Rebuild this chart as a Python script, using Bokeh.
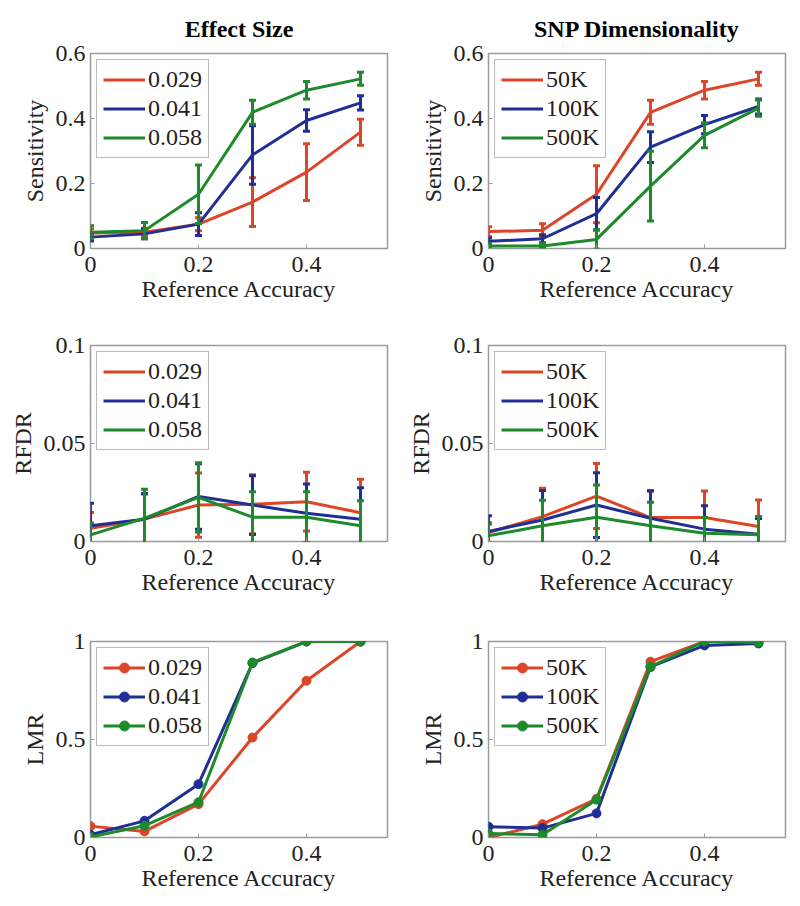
from bokeh.plotting import figure
from bokeh.models import Range1d, FixedTicker, CustomJSTickFormatter
from bokeh.layouts import gridplot
from bokeh.embed import file_html
from bokeh.resources import INLINE

# ---------------- data ----------------
ref_acc = [0.0, 0.1, 0.2, 0.3, 0.4, 0.5]
effect_labels = ["0.029", "0.041", "0.058"]
snp_labels = ["50K", "100K", "500K"]
colors = ["#dc4527", "#1f2f94", "#1d8a2b"]

# Sensitivity vs effect size
sens_eff_029 = [0.048, 0.050, 0.075, 0.143, 0.235, 0.358]
sens_eff_029_err = [0.012, 0.012, 0.020, 0.075, 0.087, 0.040]
sens_eff_041 = [0.035, 0.045, 0.075, 0.288, 0.394, 0.448]
sens_eff_041_err = [0.012, 0.015, 0.035, 0.090, 0.033, 0.022]
sens_eff_058 = [0.050, 0.055, 0.167, 0.419, 0.487, 0.522]
sens_eff_058_err = [0.020, 0.025, 0.090, 0.037, 0.027, 0.020]

# Sensitivity vs SNP dimensionality
sens_snp_50k = [0.052, 0.056, 0.167, 0.419, 0.487, 0.522]
sens_snp_50k_err = [0.015, 0.020, 0.088, 0.037, 0.027, 0.020]
sens_snp_100k = [0.022, 0.030, 0.107, 0.312, 0.381, 0.437]
sens_snp_100k_err = [0.010, 0.012, 0.050, 0.047, 0.028, 0.023]
sens_snp_500k = [0.008, 0.008, 0.028, 0.192, 0.348, 0.432]
sens_snp_500k_err = [0.008, 0.008, 0.030, 0.107, 0.038, 0.025]

# RFDR vs effect size
rfdr_eff_029 = [0.0068, 0.0114, 0.0186, 0.0190, 0.0203, 0.0147]
rfdr_eff_029_err = [0.0080, 0.0130, 0.0164, 0.0150, 0.0150, 0.0170]
rfdr_eff_041 = [0.0080, 0.0114, 0.0230, 0.0186, 0.0144, 0.0114]
rfdr_eff_041_err = [0.0115, 0.0130, 0.0167, 0.0150, 0.0150, 0.0160]
rfdr_eff_058 = [0.0034, 0.0119, 0.0225, 0.0124, 0.0124, 0.0080]
rfdr_eff_058_err = [0.0060, 0.0147, 0.0177, 0.0130, 0.0130, 0.0128]

# RFDR vs SNP dimensionality
rfdr_snp_50k = [0.0046, 0.0127, 0.0232, 0.0122, 0.0122, 0.0076]
rfdr_snp_50k_err = [0.0050, 0.0145, 0.0166, 0.0136, 0.0136, 0.0136]
rfdr_snp_100k = [0.0051, 0.0110, 0.0186, 0.0119, 0.0063, 0.0037]
rfdr_snp_100k_err = [0.0080, 0.0150, 0.0165, 0.0140, 0.0120, 0.0080]
rfdr_snp_500k = [0.0029, 0.0080, 0.0124, 0.0080, 0.0042, 0.0034]
rfdr_snp_500k_err = [0.0060, 0.0130, 0.0164, 0.0120, 0.0080, 0.0093]

# LMR vs effect size
lmr_eff_029 = [0.058, 0.031, 0.170, 0.510, 0.800, 1.000]
lmr_eff_041 = [0.014, 0.085, 0.272, 0.890, 1.000, 1.000]
lmr_eff_058 = [0.003, 0.060, 0.180, 0.893, 1.000, 1.000]

# LMR vs SNP dimensionality
lmr_snp_50k = [0.000, 0.068, 0.197, 0.897, 1.000, 1.000]
lmr_snp_100k = [0.055, 0.048, 0.123, 0.870, 0.980, 0.990]
lmr_snp_500k = [0.020, 0.014, 0.193, 0.872, 1.000, 0.995]

sens_ticks = [0, 0.2, 0.4, 0.6]
rfdr_ticks = [0, 0.05, 0.1]
lmr_ticks = [0, 0.5, 1]
x_ticks = [0, 0.2, 0.4]

# ---------------- styling ----------------
FONT = "Liberation Serif"
FS = "24px"
FRAME = "#9a9a9a"


def make_fig(ylabel, yticks, width, height, left, right, top, bottom, title=None):
    p = figure(width=width, height=height,
               x_range=Range1d(0, 0.55), y_range=Range1d(yticks[0], yticks[-1]),
               output_backend="svg", toolbar_location=None,
               min_border_left=left, min_border_right=right,
               min_border_top=top, min_border_bottom=bottom)
    p.grid.visible = False
    p.outline_line_color = FRAME
    p.outline_line_width = 1.5
    p.background_fill_color = "white"
    p.border_fill_color = "white"
    if title:
        p.title.text = title
        p.title.align = "center"
        p.title.text_font = FONT
        p.title.text_font_size = FS
        p.title.text_font_style = "bold"
        p.title.text_color = "black"
        p.title.standoff = 24
    fmt = CustomJSTickFormatter(code="return tick.toString();")
    for ax in p.xaxis:
        ax.ticker = FixedTicker(ticks=x_ticks)
        ax.formatter = fmt
        ax.axis_label = "Reference Accuracy"
        ax.major_label_standoff = 8
        ax.axis_label_standoff = 1
    for ax in p.yaxis:
        ax.ticker = FixedTicker(ticks=yticks)
        ax.formatter = fmt
        ax.axis_label = ylabel
        ax.major_label_standoff = 5
        ax.axis_label_standoff = 5
    for ax in p.xaxis + p.yaxis:
        ax.axis_line_color = None
        ax.major_tick_in = 4
        ax.major_tick_out = 0
        ax.major_tick_line_color = FRAME
        ax.minor_tick_line_color = None
        ax.major_label_text_font = FONT
        ax.major_label_text_font_size = FS
        ax.major_label_text_color = "#222222"
        ax.axis_label_text_font = FONT
        ax.axis_label_text_font_size = FS
        ax.axis_label_text_font_style = "normal"
        ax.axis_label_text_color = "#222222"
    return p


def style_legend(p):
    lg = p.legend[0]
    lg.location = "top_left"
    lg.margin = 6
    lg.padding = 6
    lg.spacing = 2
    lg.glyph_width = 42
    lg.glyph_height = 25
    lg.label_height = 25
    lg.label_standoff = 3
    lg.label_text_font = FONT
    lg.label_text_font_size = FS
    lg.label_text_color = "#222222"
    lg.border_line_color = "#7a7a7a"
    lg.border_line_width = 1.5
    lg.background_fill_alpha = 1.0


def add_err_series(p, y, err, color, label):
    lo = [a - b for a, b in zip(y, err)]
    hi = [a + b for a, b in zip(y, err)]
    p.segment(x0=ref_acc, y0=lo, x1=ref_acc, y1=hi, line_color=color, line_width=3)
    p.scatter(x=ref_acc + ref_acc, y=lo + hi, marker="dash", size=7,
              line_color=color, line_width=3)
    p.line(ref_acc, y, line_color=color, line_width=3, legend_label=label)


def add_marker_series(p, y, color, label):
    p.line(ref_acc, y, line_color=color, line_width=3, legend_label=label)
    p.scatter(ref_acc, y, marker="circle", size=9, fill_color=color,
              line_color=color, legend_label=label)


# left column figures: 400 wide, frame left at 90; right column: 392 wide
LW, RW = 400, 392
p1 = make_fig("Sensitivity", sens_ticks, LW, 304, 90, 13, 53, 55, title="Effect Size")
for y, e, c, lab in zip([sens_eff_029, sens_eff_041, sens_eff_058],
                        [sens_eff_029_err, sens_eff_041_err, sens_eff_058_err],
                        colors, effect_labels):
    add_err_series(p1, y, e, c, lab)
style_legend(p1)

p2 = make_fig("Sensitivity", sens_ticks, RW, 304, 88, 7, 53, 55, title="SNP Dimensionality")
for y, e, c, lab in zip([sens_snp_50k, sens_snp_100k, sens_snp_500k],
                        [sens_snp_50k_err, sens_snp_100k_err, sens_snp_500k_err],
                        colors, snp_labels):
    add_err_series(p2, y, e, c, lab)
style_legend(p2)

p3 = make_fig("RFDR", rfdr_ticks, LW, 296, 90, 13, 41, 59)
for y, e, c, lab in zip([rfdr_eff_029, rfdr_eff_041, rfdr_eff_058],
                        [rfdr_eff_029_err, rfdr_eff_041_err, rfdr_eff_058_err],
                        colors, effect_labels):
    add_err_series(p3, y, e, c, lab)
style_legend(p3)

p4 = make_fig("RFDR", rfdr_ticks, RW, 296, 88, 7, 41, 59)
for y, e, c, lab in zip([rfdr_snp_50k, rfdr_snp_100k, rfdr_snp_500k],
                        [rfdr_snp_50k_err, rfdr_snp_100k_err, rfdr_snp_500k_err],
                        colors, snp_labels):
    add_err_series(p4, y, e, c, lab)
style_legend(p4)

p5 = make_fig("LMR", lmr_ticks, LW, 296, 90, 13, 41, 59)
for y, c, lab in zip([lmr_eff_029, lmr_eff_041, lmr_eff_058], colors, effect_labels):
    add_marker_series(p5, y, c, lab)
style_legend(p5)

p6 = make_fig("LMR", lmr_ticks, RW, 296, 88, 7, 41, 59)
for y, c, lab in zip([lmr_snp_50k, lmr_snp_100k, lmr_snp_500k], colors, snp_labels):
    add_marker_series(p6, y, c, lab)
style_legend(p6)

grid = gridplot([[p1, p2], [p3, p4], [p5, p6]], toolbar_location=None)

open("out.html", "w").write(file_html(grid, INLINE))
